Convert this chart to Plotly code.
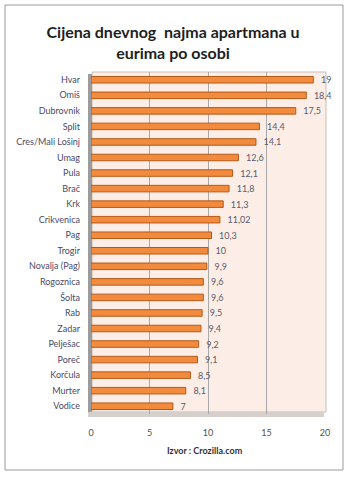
import plotly.graph_objects as go

categories = ["Hvar", "Omiš", "Dubrovnik", "Split", "Cres/Mali Lošinj", "Umag", "Pula", "Brač",
              "Krk", "Crikvenica", "Pag", "Trogir", "Novalja (Pag)", "Rogoznica", "Šolta", "Rab",
              "Zadar", "Pelješac", "Poreč", "Korčula", "Murter", "Vodice"]
values = [19, 18.4, 17.5, 14.4, 14.1, 12.6, 12.1, 11.8, 11.3, 11.02, 10.3, 10, 9.9, 9.6, 9.6, 9.5,
          9.4, 9.2, 9.1, 8.5, 8.1, 7]
labels = [str(v).replace(".", ",") for v in values]
x_ticks = [0, 5, 10, 15, 20]

W, H = 350, 477
L, R, T, B = 91, 25, 72, 63
PW, PH = W - L - R, H - T - B


def px(x):
    return (x - L) / PW


def py(y):
    return 1 - (y - T) / PH


fig = go.Figure()
fig.add_trace(go.Bar(
    y=categories, x=values, orientation="h",
    marker=dict(color="#F38B3E", line=dict(color="#B45A18", width=1)),
    width=0.42,
    text=labels, texttemplate="  %{text}", textposition="outside", cliponaxis=False,
    constraintext="none",
    textfont=dict(family="Lato, sans-serif", size=9, color="#5A5A6E"),
))

shapes = [
    # outer border
    dict(type="rect", xref="paper", yref="paper", x0=px(5), x1=px(343), y0=py(5), y1=py(470),
         line=dict(color="#9A9A9A", width=1), fillcolor="rgba(0,0,0,0)", layer="below"),
    # back wall
    dict(type="rect", xref="paper", yref="paper", x0=px(92), x1=px(326), y0=py(72), y1=py(412),
         line=dict(color="#C8BDB6", width=1), fillcolor="#FCEEE6", layer="below"),
    # left side wall
    dict(type="rect", xref="paper", yref="paper", x0=px(88), x1=px(92), y0=py(74), y1=py(416),
         line=dict(width=0), fillcolor="#9C9C9C", layer="below"),
    # floor
    dict(type="rect", xref="paper", yref="paper", x0=px(88), x1=px(324), y0=py(412), y1=py(417),
         line=dict(width=0), fillcolor="#D6D0CC", layer="below"),
]
fig.update_layout(
    width=W, height=H,
    margin=dict(l=L, r=R, t=T, b=B),
    paper_bgcolor="white", plot_bgcolor="rgba(0,0,0,0)",
    showlegend=False,
    shapes=shapes,
    title=dict(text="Cijena dnevnog  najma apartmana u<br>eurima po osobi",
               x=173 / W, xref="container", xanchor="center", y=1 - 38 / H, yref="container",
               yanchor="middle",
               font=dict(family="Lato, sans-serif", size=16, color="#1E1E1E", weight="bold")),
    xaxis=dict(range=[0, 20], tickvals=x_ticks, ticktext=[str(t) for t in x_ticks],
               showgrid=True, gridcolor="#A8A8A8", gridwidth=1, zeroline=False,
               showline=False, ticks="", ticklabelstandoff=12,
               tickfont=dict(family="Lato, sans-serif", size=9, color="#505050")),
    yaxis=dict(categoryorder="array", categoryarray=categories, autorange="reversed",
               showgrid=False, zeroline=False, showline=False, ticks="", ticklabelstandoff=10,
               tickfont=dict(family="Lato, sans-serif", size=9, color="#4A4A66")),
    annotations=[dict(text="<b>Izvor : Crozilla.com</b>", xref="paper", yref="paper",
                      x=px(205), y=py(450), xanchor="center", yanchor="middle", showarrow=False,
                      font=dict(family="Lato, sans-serif", size=9, color="#333340"))],
    bargap=0.5,
)
fig.write_html("out.html")
